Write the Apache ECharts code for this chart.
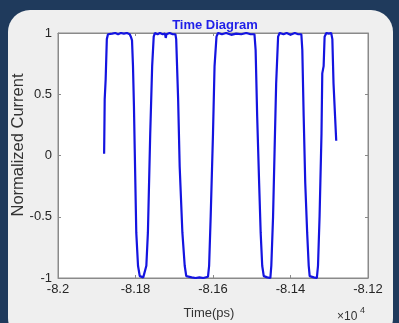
<!DOCTYPE html>
<html>
<head>
<meta charset="utf-8">
<script src="https://cdn.jsdelivr.net/npm/echarts@6/dist/echarts.min.js"></script>
<style>
html,body{margin:0;padding:0;background:#1f3a5c;}
#c{width:399px;height:323px;}
</style>
</head>
<body>
<div id="c"></div>
<script>
// Time in ps, normalized current
var timePs = [
-81881,-81880,-81879.5,-81877,-81874,-81871,-81868,-81860,-81852,-81845,-81838,-81830,-81822,-81815,-81812,-81809,-81806.5,-81804,-81802,-81798,-81793.5,-81789,-81785,-81780,-81775,
-81772,-81768,-81762,-81757,-81753,-81750,-81743,-81737,-81730,-81724,-81722,-81720,-81712,-81704,-81697,-81695,-81690,-81686,-81679,-81673,-81669,-81665,-81655,-81645,-81635,-81625,-81613,
-81610,-81606,-81600,-81596,-81591,-81587,-81577,-81566,-81553,-81540,-81527,-81514,-81503,-81493,-81490,-81486,-81481,-81477,-81473,-81469,-81467,-81460,-81452,
-81449.5,-81445,-81441,-81437,-81432,-81428,-81418,-81410,-81400,-81389,-81380,-81372,-81369.5,-81366,-81362,-81357,-81353,-81350.5,-81346,-81340,-81332,
-81329,-81325,-81320,-81318,-81314.5,-81312,-81307.5,-81301,-81295,-81292,-81289,-81285,-81282
];
var current = [
0.015,0.30,0.46,0.62,0.95,0.99,1.0,0.995,1.0,0.99,1.0,0.995,1.0,0.99,0.97,0.94,0.73,0.40,0.05,-0.63,-0.90,-0.985,-1.0,-0.995,-1.0,
-0.90,-0.63,0.18,0.73,0.97,1.0,0.99,1.0,0.99,0.995,0.96,0.99,1.0,0.99,0.99,0.95,0.46,-0.09,-0.63,-0.90,-0.985,-1.0,-0.995,-1.0,-0.995,-1.0,-0.99,
-0.90,-0.50,0.18,0.73,0.97,1.0,0.99,1.0,0.985,0.995,0.99,1.0,0.99,0.99,0.86,0.32,-0.22,-0.63,-0.90,-0.985,-1.0,-0.995,-1.0,
-0.90,-0.50,0.05,0.59,0.97,1.0,0.99,1.0,0.985,1.0,0.99,0.99,0.86,0.32,-0.22,-0.63,-0.90,-0.985,-1.0,-0.995,-1.0,
-0.90,-0.50,0.18,0.67,0.73,0.97,1.0,0.995,1.0,0.95,0.59,0.32,0.12
];
var xTicks = [-82000,-81800,-81600,-81400,-81200];
var yTicks = [-1,-0.5,0,0.5,1];

var pts = timePs.map(function(t,i){return [t,current[i]];});
var font = 'Liberation Sans, Arial, sans-serif';
var axisCol = '#8a8a8a';
var chart = echarts.init(document.getElementById('c'));
chart.setOption({
  backgroundColor: '#1f3a5c',
  animation: false,
  title: {
    text: 'Time Diagram', left: 210, top: 14, textAlign: 'center',
    textStyle: {fontFamily: font, fontSize: 13, fontWeight: 'bold', color: '#1f1fe8'}
  },
  graphic: [
    {type: 'rect', z: -10, shape: {x: 8, y: 10, width: 385, height: 330, r: 22}, style: {fill: '#efefef'}},
    {type: 'text', z: 10, x: 18, y: 145, rotation: Math.PI / 2,
      style: {text: 'Normalized Current', fontFamily: font, fontSize: 16.5, fill: '#333', align: 'center', verticalAlign: 'middle'}},
    {type: 'text', z: 10, x: 209, y: 313,
      style: {text: 'Time(ps)', fontFamily: font, fontSize: 13, fill: '#333', align: 'center', verticalAlign: 'middle'}},
    {type: 'text', left: 337, top: 311, z: 10, style: {text: '×10', fontFamily: font, fontSize: 12, fill: '#333'}},
    {type: 'text', left: 360, top: 306, z: 10, style: {text: '4', fontFamily: font, fontSize: 9, fill: '#333'}}
  ],
  grid: {left: 58, top: 33, width: 310, height: 245, show: true, backgroundColor: '#ffffff', borderColor: axisCol, borderWidth: 1},
  xAxis: [{
    type: 'value', min: -82000, max: -81200, interval: 200, position: 'bottom',
    axisLine: {show: true, onZero: false, lineStyle: {color: axisCol}},
    axisTick: {show: true, inside: true, length: 3, lineStyle: {color: axisCol}},
    axisLabel: {fontFamily: font, fontSize: 13, color: '#262626', margin: 5,
      formatter: function(v){return String(parseFloat((v/1e4).toFixed(3)));}},
    splitLine: {show: false}
  },{
    type: 'value', min: -82000, max: -81200, interval: 200, position: 'top',
    axisLine: {show: true, onZero: false, lineStyle: {color: axisCol}},
    axisTick: {show: true, inside: true, length: 3, lineStyle: {color: axisCol}},
    axisLabel: {show: false}, splitLine: {show: false}
  }],
  yAxis: [{
    type: 'value', min: -1, max: 1, interval: 0.5, position: 'left',
    axisLine: {show: true, onZero: false, lineStyle: {color: axisCol}},
    axisTick: {show: true, inside: true, length: 3, lineStyle: {color: axisCol}},
    axisLabel: {fontFamily: font, fontSize: 13, color: '#262626', margin: 6},
    splitLine: {show: false}
  },{
    type: 'value', min: -1, max: 1, interval: 0.5, position: 'right',
    axisLine: {show: true, onZero: false, lineStyle: {color: axisCol}},
    axisTick: {show: true, inside: true, length: 3, lineStyle: {color: axisCol}},
    axisLabel: {show: false}, splitLine: {show: false}
  }],
  series: [{
    type: 'line', data: pts, showSymbol: false, xAxisIndex: 0, yAxisIndex: 0,
    lineStyle: {color: '#1414e0', width: 2.2}, itemStyle: {color: '#1414e0'}
  }]
});
</script>
</body>
</html>
